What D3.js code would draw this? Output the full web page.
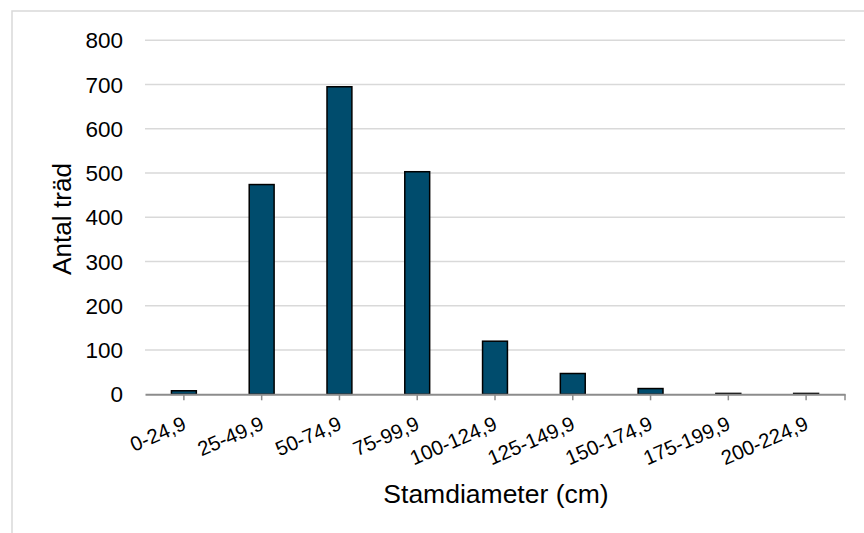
<!DOCTYPE html>
<html>
<head>
<meta charset="utf-8">
<script src="https://cdn.jsdelivr.net/npm/d3@7"></script>
<style>
html,body{margin:0;padding:0;background:#fff;}
svg{display:block;font-family:"Liberation Sans",Arial,sans-serif;}
</style>
</head>
<body>
<svg id="chart" width="864" height="533"></svg>
<script>
const categories = ["0-24,9","25-49,9","50-74,9","75-99,9","100-124,9","125-149,9","150-174,9","175-199,9","200-224,9"];
const values = [8, 474, 695, 503, 120, 47, 13, 2, 2];
const yTicks = [0,100,200,300,400,500,600,700,800];
const xTitle = "Stamdiameter (cm)";
const yTitle = "Antal träd";

const svg = d3.select("#chart");
const pLeft = 145, pRight = 845, pTop = 40.3, pBottom = 394.3;

svg.append("rect").attr("x",12).attr("y",11).attr("width",870).attr("height",540)
  .attr("fill","#fff").attr("stroke","#d9d9d9").attr("stroke-width",1.5);

const x = d3.scaleBand().domain(categories).range([pLeft,pRight]).paddingInner(0.68).paddingOuter(0.34);
const y = d3.scaleLinear().domain([0,800]).range([pBottom,pTop]);

// gridlines
svg.append("g").selectAll("line").data(yTicks.filter(d=>d>0)).join("line")
  .attr("x1",pLeft).attr("x2",pRight).attr("y1",d=>y(d)).attr("y2",d=>y(d))
  .attr("stroke","#d9d9d9").attr("stroke-width",1.5);

// y labels
svg.append("g").selectAll("text").data(yTicks).join("text")
  .attr("x",123).attr("y",d=>y(d)).attr("dy","0.36em")
  .attr("text-anchor","end").attr("font-size",22.5).attr("fill","#000")
  .text(d=>d);

// bars
svg.append("g").selectAll("rect").data(values).join("rect")
  .attr("x",(d,i)=>x(categories[i])).attr("width",x.bandwidth())
  .attr("y",d=>y(d)).attr("height",d=>y(0)-y(d))
  .attr("fill","#004c6d").attr("stroke","#000").attr("stroke-width",1.5);

// x axis
const xAxis = d3.axisBottom(x).tickSize(6).tickSizeOuter(0).tickFormat("");
const gx = svg.append("g").attr("transform",`translate(0,${pBottom})`).call(xAxis);
gx.select(".domain").attr("stroke","#8c8c8c").attr("stroke-width",2);
gx.selectAll(".tick line").attr("stroke","#8c8c8c").attr("stroke-width",1.5);
gx.append("line").attr("x1",pRight).attr("x2",pRight).attr("y1",0).attr("y2",6)
  .attr("stroke","#8c8c8c").attr("stroke-width",1.5);

// x labels rotated
svg.append("g").selectAll("text").data(categories).join("text")
  .attr("transform",d=>`translate(${x(d)+x.bandwidth()/2+3.5},${pBottom+34.5}) rotate(-23.5)`)
  .attr("text-anchor","end")
  .attr("font-size",20.5).attr("fill","#000")
  .text(d=>d);

// titles
svg.append("text").attr("x",496).attr("y",503).attr("text-anchor","middle")
  .attr("font-size",26.5).attr("fill","#000").text(xTitle);
svg.append("text").attr("transform","translate(70.5,219) rotate(-90)").attr("text-anchor","middle")
  .attr("font-size",26.2).attr("fill","#000").text(yTitle);
</script>
</body>
</html>
